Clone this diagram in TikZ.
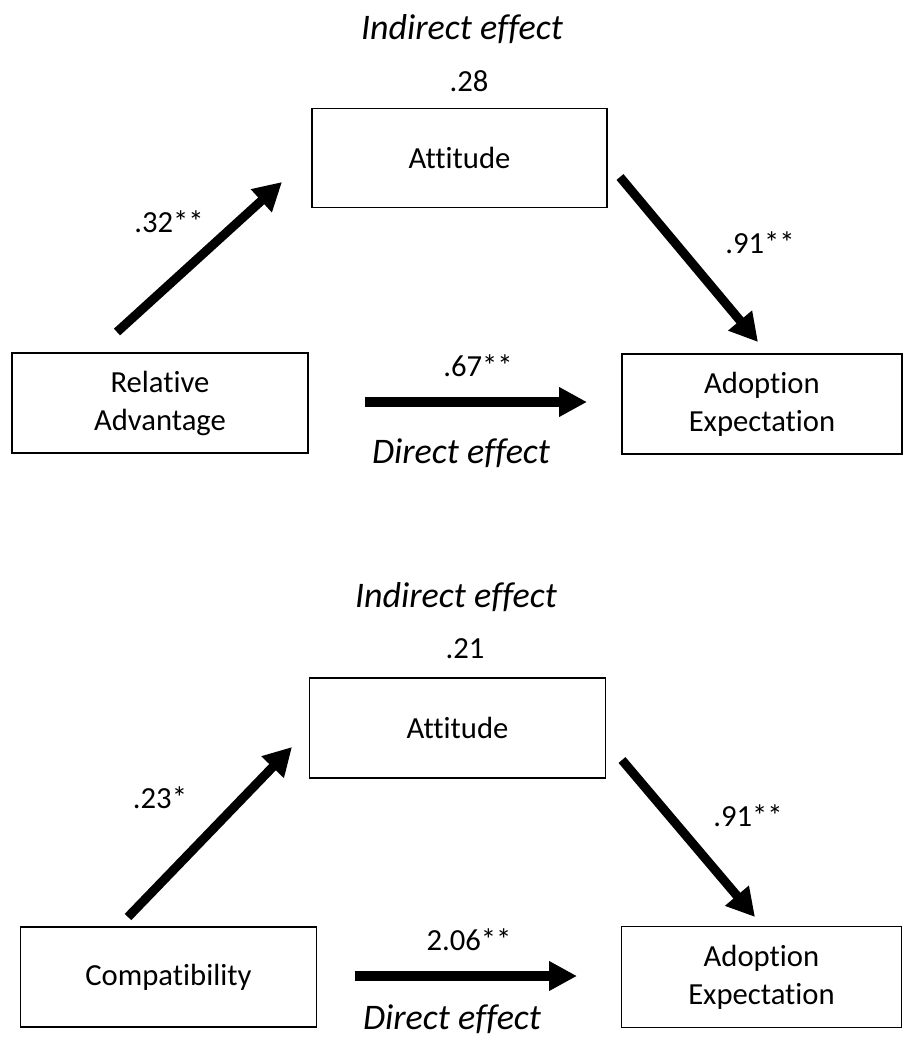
\documentclass[tikz,border=0pt]{standalone}
\usepackage{fontspec}
\setmainfont{Carlito}[Ligatures=NoCommon]
\usetikzlibrary{arrows.meta}
\begin{document}
\begin{tikzpicture}[x=0.75pt,y=-0.75pt]
            \tikzstyle{var}=[draw, line width=1.2pt, align=center, font=\fontsize{23}{28.5}\selectfont]
            \tikzstyle{coef}=[inner sep=0pt, font=\fontsize{23}{28}\selectfont]
            \tikzstyle{effect}=[inner sep=0pt, font=\fontsize{27}{30}\selectfont\itshape]
            \tikzstyle{path}=[line width=6.8pt, -{Triangle[length=21pt,width=22pt]}]
            \tikzstyle{direct}=[line width=7.5pt, -{Triangle[length=21pt,width=21pt]}]
            \useasboundingbox (0,0) rectangle (905,1040);
            % top panel
            \node[effect] (ind1) at (462,29) {Indirect effect};
            \node[coef] (ie1) at (469,81) {.28};
            \node[var, minimum width=221pt, minimum height=74pt] (att1) at (459.5,158) {Attitude};
            \node[var, minimum width=222pt, minimum height=75pt] (ra) at (160,403) {Relative\\Advantage};
            \node[var, minimum width=210pt, minimum height=75pt] (ae1) at (762,404) {Adoption\\Expectation};
            \coordinate (ra-t) at (117,332);
            \coordinate (att1-h) at (282,182);
            \coordinate (att1-t) at (620,177);
            \coordinate (ae1-h) at (758,342);
            \coordinate (ra-d) at (365,402);
            \coordinate (ae1-d) at (587,402);
            \draw[path] (ra-t) -- (att1-h);
            \draw[path] (att1-t) -- (ae1-h);
            \draw[direct] (ra-d) -- (ae1-d);
            \node[coef] (c1) at (169,222) {.32**};
            \node[coef] (c2) at (760,243) {.91**};
            \node[coef] (c3) at (478,366) {.67**};
            \node[effect] (dir1) at (461,453) {Direct effect};
            % bottom panel
            \node[effect] (ind2) at (456,597) {Indirect effect};
            \node[coef] (ie2) at (465,649) {.21};
            \node[var, minimum width=222pt, minimum height=75pt] (att2) at (457.5,728) {Attitude};
            \node[var, minimum width=222pt, minimum height=75pt] (cp) at (168.5,977) {Compatibility};
            \node[var, minimum width=210pt, minimum height=76pt] (ae2) at (761.5,977) {Adoption\\Expectation};
            \coordinate (cp-t) at (128,917);
            \coordinate (att2-h) at (292,747);
            \coordinate (att2-t) at (622,760);
            \coordinate (ae2-h) at (755,917);
            \coordinate (cp-d) at (355,976);
            \coordinate (ae2-d) at (577,976);
            \draw[path] (cp-t) -- (att2-h);
            \draw[path] (att2-t) -- (ae2-h);
            \draw[direct] (cp-d) -- (ae2-d);
            \node[coef] (c4) at (160,798) {.23*};
            \node[coef] (c5) at (748,816) {.91**};
            \node[coef] (c6) at (469,940) {2.06**};
            \node[effect] (dir2) at (452,1019) {Direct effect};
\end{tikzpicture}
\end{document}
